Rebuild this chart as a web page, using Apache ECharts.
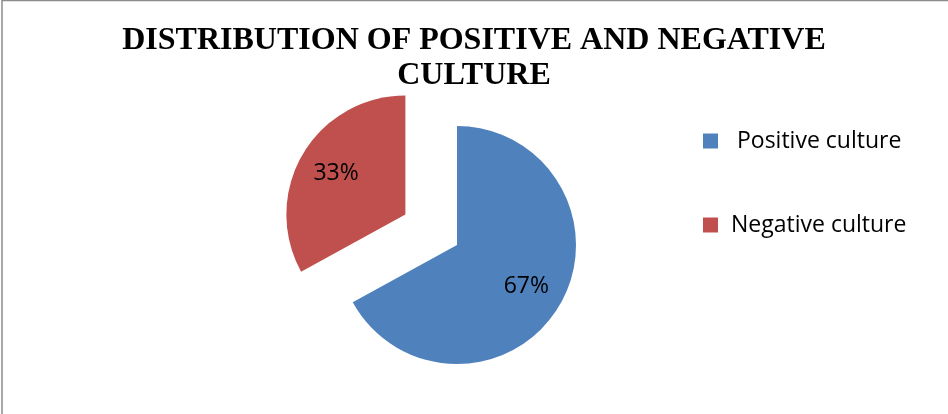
<!DOCTYPE html>
<html>
<head>
<meta charset="utf-8">
<script src="https://cdn.jsdelivr.net/npm/echarts@6/dist/echarts.min.js"></script>
<style>
html,body{margin:0;padding:0;background:#fff;}
#chart{width:948px;height:414px;}
</style>
</head>
<body>
<div id="chart"></div>
<script>
var titleText = 'DISTRIBUTION OF POSITIVE AND NEGATIVE\nCULTURE';
var categories = ['Positive culture', 'Negative culture'];
var values = [67, 33];
var colors = ['#4F81BD', '#C0504D'];

var CX = 457, CY = 245, R = 119;

var chart = echarts.init(document.getElementById('chart'), null, {renderer: 'canvas'});
chart.setOption({
  animation: false,
  backgroundColor: '#ffffff',
  graphic: [{
    type: 'polyline',
    silent: true,
    shape: {points: [[2, 414], [2, 0.5], [948, 0.5]]},
    style: {stroke: '#8c8c8c', lineWidth: 1.5, fill: null}
  }],
  title: {
    text: titleText,
    left: 'center',
    top: 18,
    textStyle: {
      fontFamily: '"Liberation Serif", "Times New Roman", serif',
      fontWeight: 'bold',
      fontSize: 32,
      lineHeight: 35,
      color: '#000'
    }
  },
  legend: {
    orient: 'vertical',
    left: 703,
    top: 129,
    padding: 0,
    icon: 'rect',
    itemWidth: 15,
    itemHeight: 15,
    itemGap: 60,
    selectedMode: false,
    formatter: function (name) { return name === 'Positive culture' ? ' ' + name : name; },
    textStyle: {
      fontFamily: '"Open Sans", sans-serif',
      fontSize: 23,
      lineHeight: 24,
      padding: [0, 0, 0, 8],
      color: '#000'
    },
    data: categories
  },
  series: [{
    type: 'pie',
    center: [CX, CY],
    radius: R,
    startAngle: 90,
    clockwise: true,
    selectedMode: 'single',
    selectedOffset: 60,
    avoidLabelOverlap: false,
    emphasis: {disabled: true},
    label: {
      show: true,
      position: 'inside',
      formatter: function (p) { return p.value + '%'; },
      fontFamily: '"Open Sans", sans-serif',
      fontSize: 23,
      color: '#000'
    },
    labelLine: {show: false},
    labelLayout: function (params) {
      var r = params.labelRect;
      var lx = r.x + r.width / 2, ly = r.y + r.height / 2;
      var vx = lx - CX, vy = ly - CY;
      var d = Math.sqrt(vx * vx + vy * vy) || 1;
      var shift = 18;
      return {dx: vx / d * shift, dy: vy / d * shift};
    },
    data: categories.map(function (c, i) {
      return {
        name: c,
        value: values[i],
        selected: i === 1,
        itemStyle: {color: colors[i]}
      };
    })
  }]
});
</script>
</body>
</html>
